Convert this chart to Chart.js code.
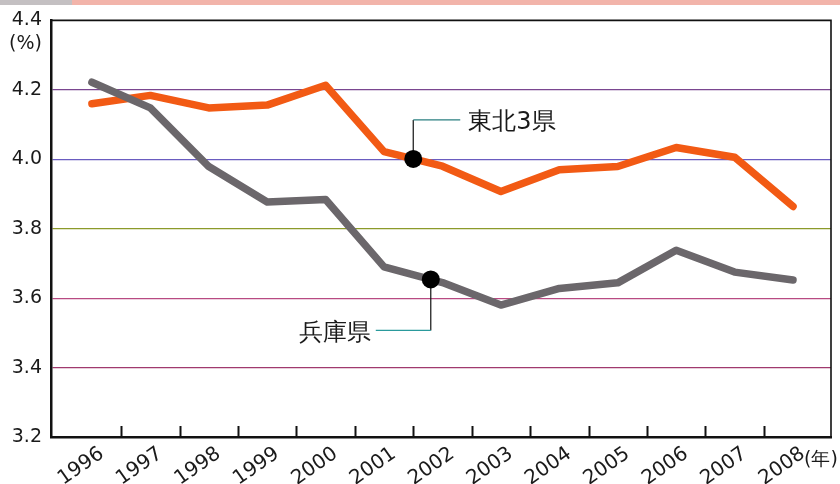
<!DOCTYPE html>
<html>
<head>
<meta charset="utf-8">
<script src="https://cdn.jsdelivr.net/npm/chart.js@4/dist/chart.umd.min.js"></script>
<style>
	body { margin: 0; background: #fff; }
	#chart { display: block; }
</style>
</head>
<body>
<canvas id="chart" width="840" height="484"></canvas>
<script>
'use strict';

// Data.
var years = [1996, 1997, 1998, 1999, 2000, 2001, 2002, 2003, 2004, 2005, 2006, 2007, 2008];
var tohoku = [4.160, 4.184, 4.148, 4.156, 4.213, 4.022, 3.980, 3.907, 3.970, 3.979, 4.034, 4.006, 3.864];
var hyogo = [4.222, 4.148, 3.979, 3.877, 3.884, 3.690, 3.645, 3.580, 3.628, 3.644, 3.738, 3.675, 3.652];
var yTicks = [3.2, 3.4, 3.6, 3.8, 4.0, 4.2, 4.4];
var calloutNames = ['東北3県', '兵庫県'];
var calloutX = [2001.5, 2001.8];
var calloutY = [4.001, 3.654];

var FONT = '"DejaVu Sans", sans-serif';

// Grid line colours per value (printed chart has tinted rules).
var gridColors = {
	'3.4': '#a03a6e',
	'3.6': '#b84a82',
	'3.8': '#8c9a2a',
	'4.0': '#6a5cc0',
	'4.2': '#7a4690'
};

function toPoints(values) {
	return years.map(function(yr, i) {
		return { x: yr, y: values[i] };
	});
}

var decorPlugin = {
	id: 'decor',
	beforeDraw: function(chart) {
		var ctx = chart.ctx;
		ctx.save();
		ctx.fillStyle = '#fff';
		ctx.fillRect(0, 0, chart.width, chart.height);
		// scanned page edge at the top
		ctx.fillStyle = '#f2b4aa';
		ctx.fillRect(0, 0, chart.width, 5);
		ctx.fillStyle = '#c4c0c2';
		ctx.fillRect(0, 0, 72, 5);
		ctx.restore();
	},
	beforeDatasetsDraw: function(chart) {
		var ctx = chart.ctx;
		var x = chart.scales.x;
		var y = chart.scales.y;
		ctx.save();
		ctx.lineWidth = 1.2;
		// 東北3県: up then right
		var p0x = x.getPixelForValue(calloutX[0]);
		var p0y = y.getPixelForValue(calloutY[0]);
		ctx.strokeStyle = '#111';
		ctx.beginPath();
		ctx.moveTo(p0x, p0y);
		ctx.lineTo(p0x, p0y - 39);
		ctx.stroke();
		ctx.strokeStyle = '#2a7f80';
		ctx.beginPath();
		ctx.moveTo(p0x, p0y - 39);
		ctx.lineTo(p0x + 47, p0y - 39);
		ctx.stroke();
		// 兵庫県: down then left
		var p1x = x.getPixelForValue(calloutX[1]);
		var p1y = y.getPixelForValue(calloutY[1]);
		ctx.strokeStyle = '#111';
		ctx.beginPath();
		ctx.moveTo(p1x, p1y);
		ctx.lineTo(p1x, p1y + 51);
		ctx.stroke();
		ctx.strokeStyle = '#2a9a9c';
		ctx.beginPath();
		ctx.moveTo(p1x, p1y + 51);
		ctx.lineTo(p1x - 55, p1y + 51);
		ctx.stroke();
		ctx.restore();
	},
	afterDraw: function(chart) {
		var ctx = chart.ctx;
		var area = chart.chartArea;
		var x = chart.scales.x;
		var y = chart.scales.y;
		ctx.save();

		// frame top/right
		ctx.strokeStyle = '#111';
		ctx.lineWidth = 1.6;
		ctx.beginPath();
		ctx.moveTo(area.left, area.top);
		ctx.lineTo(area.right, area.top);
		ctx.lineTo(area.right, area.bottom);
		ctx.stroke();

		// inner tick marks between years
		ctx.lineWidth = 2;
		ctx.beginPath();
		for (var i = 0; i < years.length - 1; i++) {
			var tx = Math.round(x.getPixelForValue(years[i] + 0.5)) + 0.5;
			ctx.moveTo(tx, area.bottom);
			ctx.lineTo(tx, area.bottom - 11);
		}
		ctx.stroke();

		// unit labels
		ctx.fillStyle = '#1a1a1a';
		ctx.font = '19px ' + FONT;
		ctx.textAlign = 'right';
		ctx.textBaseline = 'middle';
		ctx.fillText('(%)', 42, 44);
		ctx.textAlign = 'left';
		ctx.fillText('(年)', 804, 460);

		// series labels
		ctx.font = '24px ' + FONT;
		var p0x = x.getPixelForValue(calloutX[0]);
		var p0y = y.getPixelForValue(calloutY[0]);
		ctx.textAlign = 'left';
		ctx.fillText(calloutNames[0], p0x + 55, p0y - 36);
		var p1x = x.getPixelForValue(calloutX[1]);
		var p1y = y.getPixelForValue(calloutY[1]);
		ctx.textAlign = 'right';
		ctx.fillText(calloutNames[1], p1x - 60, p1y + 54);
		ctx.restore();
	}
};

var chart = new Chart(document.getElementById('chart'), {
	type: 'line',
	data: {
		datasets: [ {
			label: 'callouts',
			data: calloutX.map(function(cx, i) { return { x: cx, y: calloutY[i] }; }),
			showLine: false,
			pointRadius: 9,
			pointBackgroundColor: '#000',
			pointBorderWidth: 0,
			order: 0
		}, {
			label: '兵庫県',
			data: toPoints(hyogo),
			borderColor: '#6b676b',
			borderWidth: 7.5,
			borderJoinStyle: 'round',
			borderCapStyle: 'round',
			pointRadius: 0,
			tension: 0,
			order: 1
		}, {
			label: '東北3県',
			data: toPoints(tohoku),
			borderColor: '#f25a14',
			borderWidth: 7.5,
			borderJoinStyle: 'round',
			borderCapStyle: 'round',
			pointRadius: 0,
			tension: 0,
			order: 2
		} ]
	},
	options: {
		responsive: false,
		animation: false,
		layout: {
			padding: { top: 18, right: 7, left: 0, bottom: 0 }
		},
		scales: {
			x: {
				type: 'linear',
				min: 1995.3,
				max: 2008.65,
				afterBuildTicks: function(scale) {
					scale.ticks = years.map(function(v) { return { value: v }; });
				},
				afterFit: function(scale) {
					scale.height = 47;
				},
				grid: {
					drawOnChartArea: false,
					drawTicks: false
				},
				border: {
					color: '#111',
					width: 2.5
				},
				ticks: {
					autoSkip: false,
					minRotation: 35,
					maxRotation: 35,
					labelOffset: 10,
					padding: 5,
					color: '#1a1a1a',
					font: { family: FONT, size: 20 },
					callback: function(value) {
						return String(value);
					}
				}
			},
			y: {
				min: 3.2,
				max: 4.4,
				afterBuildTicks: function(scale) {
					scale.ticks = yTicks.map(function(v) { return { value: v }; });
				},
				afterFit: function(scale) {
					scale.width = 51;
				},
				grid: {
					drawTicks: false,
					lineWidth: 1.2,
					color: function(c) {
						var key = c.tick ? c.tick.value.toFixed(1) : '';
						return gridColors[key] || 'rgba(0,0,0,0)';
					}
				},
				border: {
					color: '#111',
					width: 2.5
				},
				ticks: {
					padding: 9,
					color: '#1a1a1a',
					font: { family: FONT, size: 19 },
					callback: function(value) {
						return value.toFixed(1);
					}
				}
			}
		},
		plugins: {
			legend: { display: false },
			tooltip: { enabled: false }
		}
	},
	plugins: [ decorPlugin ]
});
</script>
</body>
</html>
